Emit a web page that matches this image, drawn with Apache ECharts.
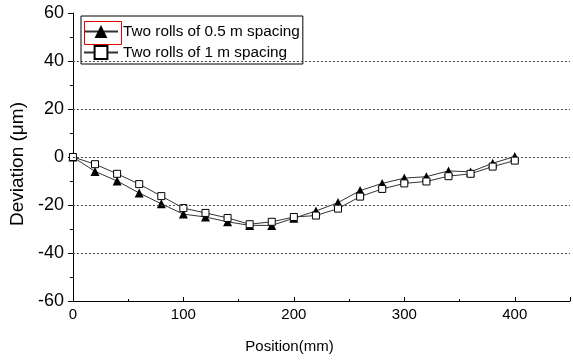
<!DOCTYPE html>
<html>
<head>
<meta charset="utf-8">
<script src="https://cdn.jsdelivr.net/npm/echarts@6/dist/echarts.min.js"></script>
<style>
  html, body { margin: 0; padding: 0; background: #fff; }
  #chart { width: 573px; height: 360px; }
</style>
</head>
<body>
<div id="chart"></div>
<script>
// ---- data ----
const positions = [0, 20, 40, 60, 80, 100, 120, 140, 160, 180, 200, 220, 240, 260, 280, 300, 320, 340, 360, 380, 400];
const halfMeter = [0, -6, -10, -15, -19.5, -23.8, -25, -27, -28.5, -28.5, -25.5, -22.5, -19, -14, -11, -8.8, -8.2, -5.8, -6.2, -2.6, 0.2];
const oneMeter  = [0, -3, -7, -11.3, -16.3, -21.3, -23.3, -25.4, -28, -27, -25, -24.4, -21.5, -16.5, -13.3, -11, -10.2, -8, -7, -4, -1.5];
const seriesNames = ['Two rolls of 0.5 m spacing', 'Two rolls of 1 m spacing'];
const gridValues = [40, 20, 0, -20, -40];

const font = 'Liberation Sans, Arial, sans-serif';
const pair = (xs, ys) => xs.map((x, i) => [x, ys[i]]);

const chart = echarts.init(document.getElementById('chart'), null, { renderer: 'canvas' });
chart.setOption({
  animation: false,
  backgroundColor: '#fff',
  grid: { left: 72, right: 2, top: 13, bottom: 59, containLabel: false },
  legend: {
    left: 81, top: 16,
    orient: 'vertical',
    data: seriesNames,
    itemWidth: 34, itemHeight: 16, itemGap: 6,
    padding: [8, 3, 4, 2],
    backgroundColor: '#fff',
    borderColor: '#000', borderWidth: 1,
    textStyle: { fontFamily: font, fontSize: 15.3, color: '#000' }
  },
  graphic: [{
    type: 'rect', left: 82, top: 19, z: 100,
    shape: { width: 37, height: 23 },
    style: { fill: 'none', stroke: '#e00000', lineWidth: 1 }
  }],
  xAxis: {
    type: 'value', min: 0, max: 450, interval: 100,
    name: 'Position(mm)', nameLocation: 'middle', nameGap: 38,
    nameTextStyle: { fontFamily: font, fontSize: 15, color: '#000', padding: [0, 64, 0, 0] },
    axisLine: { show: true, onZero: false, lineStyle: { color: '#000', width: 1 } },
    axisTick: { show: true, inside: true, length: 4, lineStyle: { color: '#000' } },
    minorTick: { show: true, splitNumber: 2, length: 2, lineStyle: { color: '#000' } },
    axisLabel: { fontFamily: font, fontSize: 15, color: '#000', margin: 6,
      formatter: v => (v > 400 ? '' : String(v)) },
    splitLine: { show: false }
  },
  yAxis: {
    type: 'value', min: -60, max: 60, interval: 20,
    name: 'Deviation (\u03bcm)', nameLocation: 'middle', nameGap: 44,
    nameTextStyle: { fontFamily: font, fontSize: 19, color: '#000', padding: [0, 14, 0, 0] },
    axisLine: { show: true, onZero: false, lineStyle: { color: '#000', width: 1 } },
    axisTick: { show: true, inside: false, length: 5, lineStyle: { color: '#000' } },
    minorTick: { show: true, splitNumber: 2, length: 3, lineStyle: { color: '#000' } },
    axisLabel: { fontFamily: font, fontSize: 18, color: '#000', margin: 9 },
    splitLine: { show: false }
  },
  series: [
    {
      name: seriesNames[0], type: 'line',
      data: pair(positions, halfMeter),
      symbol: 'triangle', symbolSize: 9,
      itemStyle: { color: '#000', borderColor: '#000', borderWidth: 0 },
      lineStyle: { color: '#333', width: 1 },
      z: 3,
      markLine: {
        silent: true, symbol: ['none', 'none'], animation: false,
        label: { show: false },
        lineStyle: { type: [2, 2], color: '#444', width: 1 },
        emphasis: { disabled: true },
        data: gridValues.map(v => ({ yAxis: v }))
      }
    },
    {
      name: seriesNames[1], type: 'line',
      data: pair(positions, oneMeter),
      symbol: 'rect', symbolSize: 7,
      itemStyle: { color: '#fff', borderColor: '#000', borderWidth: 1 },
      lineStyle: { color: '#333', width: 1 },
      z: 4
    }
  ]
});
</script>
</body>
</html>
